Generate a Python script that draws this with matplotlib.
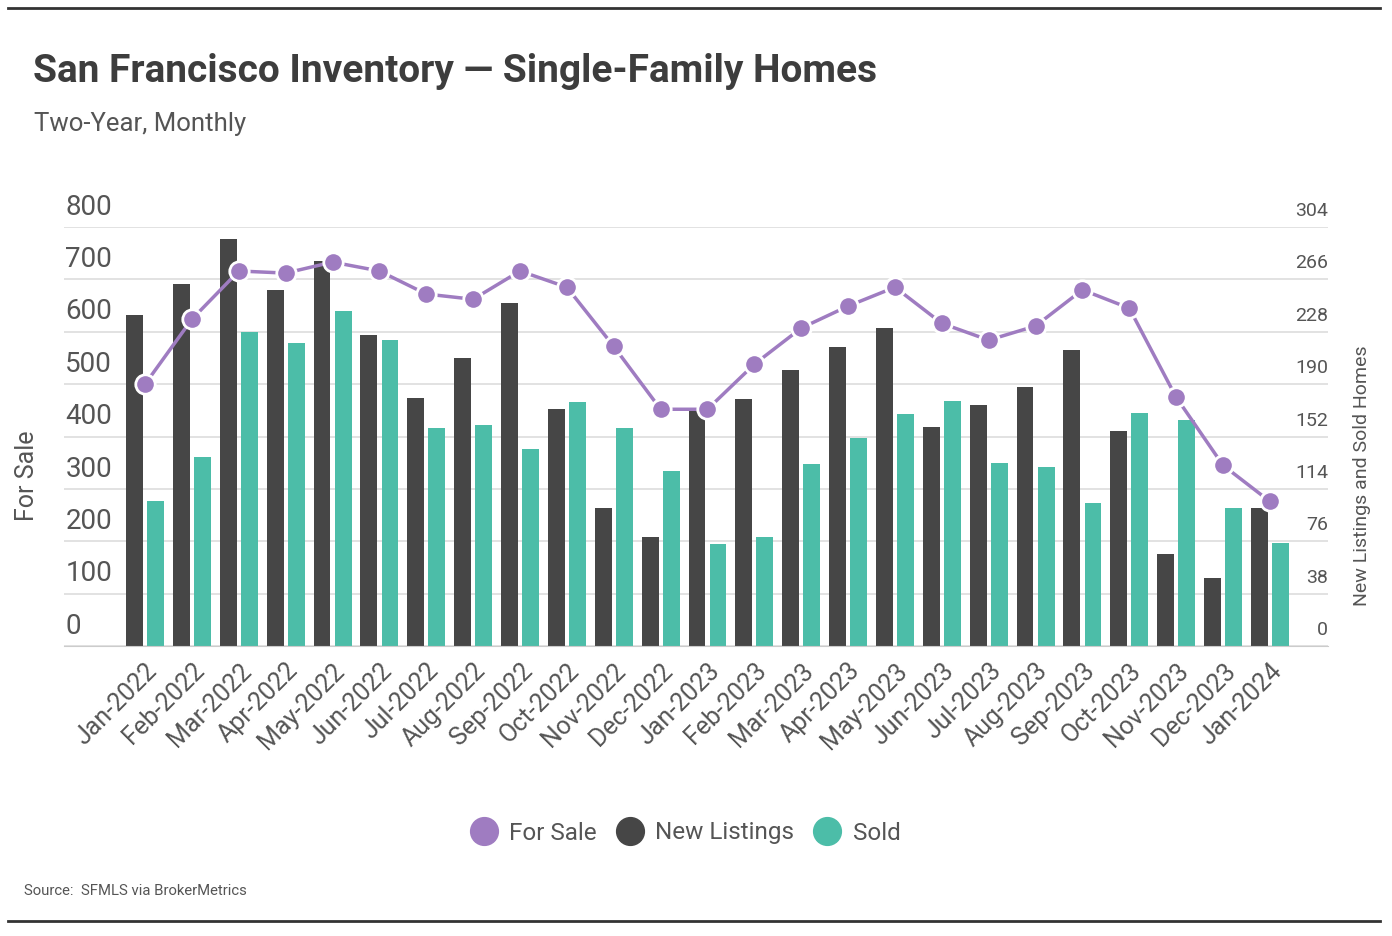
import numpy as np
import matplotlib
matplotlib.use("Agg")
import matplotlib.pyplot as plt
from matplotlib import font_manager
from matplotlib.lines import Line2D
import matplotlib.transforms as mtransforms

# data
months = ["Jan-2022", "Feb-2022", "Mar-2022", "Apr-2022", "May-2022", "Jun-2022",
          "Jul-2022", "Aug-2022", "Sep-2022", "Oct-2022", "Nov-2022", "Dec-2022",
          "Jan-2023", "Feb-2023", "Mar-2023", "Apr-2023", "May-2023", "Jun-2023",
          "Jul-2023", "Aug-2023", "Sep-2023", "Oct-2023", "Nov-2023", "Dec-2023",
          "Jan-2024"]
for_sale = [500, 624, 716, 712, 733, 716, 672, 662, 716, 685, 572, 452,
            452, 538, 607, 649, 685, 616, 584, 611, 680, 645, 475, 345, 276]
new_listings = [240, 263, 295, 258, 279, 226, 180, 209, 249, 172, 100, 79,
                172, 179, 200, 217, 231, 159, 175, 188, 215, 156, 67, 49, 100]
sold = [105, 137, 228, 220, 243, 222, 158, 160, 143, 177, 158, 127,
        74, 79, 132, 151, 168, 178, 133, 130, 104, 169, 164, 100, 75]
left_ticks = [0, 100, 200, 300, 400, 500, 600, 700, 800]
right_ticks = [0, 38, 76, 114, 152, 190, 228, 266, 304]

PURPLE = "#9f7cc1"
DARK = "#464646"
TEAL = "#4cbda8"
TXT = "#555555"

installed = {f.name for f in font_manager.fontManager.ttflist}
FONT = "Liberation Sans Narrow" if "Liberation Sans Narrow" in installed else "Roboto"
plt.rcParams["font.family"] = [FONT, "DejaVu Sans"]


def main():
    fig = plt.figure(figsize=(13.92, 9.36), dpi=100)
    ax2 = fig.add_axes([64/1392, 1 - 646/936, (1328 - 64)/1392, (646 - 227)/936])
    ax = ax2.twinx()
    ax.set_zorder(ax2.get_zorder() + 1)
    ax.patch.set_visible(False)

    x = np.arange(len(months))
    w = 0.36
    ax2.bar(x - 0.225, new_listings, w, color=DARK, zorder=2)
    ax2.bar(x + 0.225, sold, w, color=TEAL, zorder=2)
    ax.plot(x, for_sale, color=PURPLE, lw=2.5, marker="o", ms=14,
            mfc=PURPLE, mec="white", mew=2, zorder=3)

    ax.set_ylim(0, 800)
    ax2.set_ylim(0, 304)
    ax2.set_xlim(-1.73, len(months) - 1 + 1.24)

    ax2.set_yticks(right_ticks)
    ax2.grid(axis="y", color="#dddddd", lw=1.2, zorder=0)
    ax2.set_yticklabels([])
    ax.set_yticks(left_ticks)
    ax.set_yticklabels([])
    for a in (ax, ax2):
        a.tick_params(axis="y", length=0)
        for s in a.spines.values():
            s.set_visible(False)
    ax2.spines["bottom"].set_visible(True)
    ax2.spines["bottom"].set_color("#cccccc")

    # tick labels sit on top of gridlines
    tl = mtransforms.blended_transform_factory(ax.transAxes, ax.transData)
    for v in left_ticks:
        ax.text(0.001, v + 12, str(v), transform=tl, ha="left", va="bottom",
                fontsize=20, color=TXT)
    tr = mtransforms.blended_transform_factory(ax2.transAxes, ax2.transData)
    for v in right_ticks:
        ax2.text(1.0, v + 5, str(v), transform=tr, ha="right", va="bottom",
                 fontsize=14, color=TXT)

    ax2.set_xticks(x)
    ax2.set_xticklabels(months, rotation=45, ha="right", rotation_mode="anchor",
                        fontsize=18, color=TXT)
    ax2.tick_params(axis="x", length=0, pad=9)

    fig.text(27/1392, 1 - 476/936, "For Sale", rotation=90, ha="center",
             va="center", fontsize=18, color=TXT)
    fig.text(1362/1392, 1 - 476/936, "New Listings and Sold Homes", rotation=90,
             ha="center", va="center", fontsize=14, color=TXT)

    fig.text(33/1392, 1 - 72/936, "San Francisco Inventory \u2014 Single-Family Homes",
             ha="left", va="center", fontsize=28, fontweight="bold", color="#3d3d3d")
    fig.text(34/1392, 1 - 124/936, "Two-Year, Monthly", ha="left", va="center",
             fontsize=18.5, color=TXT)
    fig.text(24/1392, 1 - 891/936, "Source:  SFMLS via BrokerMetrics", ha="left",
             va="center", fontsize=10.7, color=TXT)

    handles = [Line2D([], [], ls="", marker="o", ms=20, color=c)
               for c in (PURPLE, DARK, TEAL)]
    fig.legend(handles, ["For Sale", "New Listings", "Sold"], loc="center",
               bbox_to_anchor=(683/1392, 1 - 833/936), ncol=3, frameon=False,
               fontsize=17.5, handletextpad=0.3, columnspacing=0.6,
               handlelength=1.5, labelcolor=TXT)

    for yy in (8, 921):
        fig.add_artist(Line2D([8/1392, 1380/1392], [1 - yy/936, 1 - yy/936],
                              color="#333333", lw=2))

    fig.savefig("out.png", dpi=100)


if __name__ == "__main__":
    main()
